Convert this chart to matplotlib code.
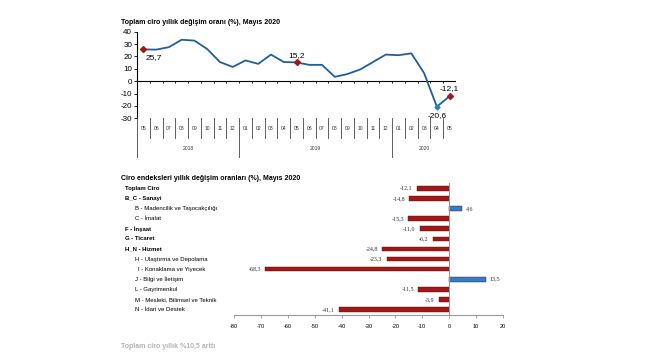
import matplotlib
matplotlib.use("Agg")
import matplotlib.pyplot as plt
import numpy as np

plt.rcParams['font.family'] = ['Liberation Sans', 'DejaVu Sans']
plt.rcParams['axes.unicode_minus'] = False

# --- top chart data ---
months = ["05", "06", "07", "08", "09", "10", "11", "12",
          "01", "02", "03", "04", "05", "06", "07", "08", "09", "10", "11", "12",
          "01", "02", "03", "04", "05"]
years = ["2018", "2019", "2020"]
year_spans = [(0, 8), (8, 20), (20, 25)]
ciro = [25.7, 25.5, 27.5, 33.5, 32.8, 26.0, 15.5, 11.5,
        16.8, 14.0, 21.5, 15.5, 15.2, 13.2, 13.2, 3.5, 5.8, 9.5, 15.5, 21.5,
        21.0, 22.5, 6.5, -20.6, -12.1]
marked = [0, 12, 24]

# --- bottom chart data ---
sectors = ["Toplam Ciro", "B_C - Sanayi", "B - Madencilik ve Taşocakçılığı", "C - İmalat",
           "F - İnşaat", "G - Ticaret", "H_N - Hizmet", "H - Ulaştırma ve Depolama",
           "I - Konaklama ve Yiyecek", "J - Bilgi ve İletişim", "L - Gayrimenkul",
           "M - Mesleki, Bilimsel ve Teknik", "N - İdari ve Destek"]
bold_rows = [True, True, False, False, True, True, True, False, False, False, False, False, False]
change = [-12.1, -14.8, 4.6, -15.3, -11.0, -6.2, -24.8, -23.3, -68.3, 13.5, -11.5, -3.9, -41.1]

W, H = 650, 360
fig = plt.figure(figsize=(W / 100, H / 100), dpi=100)


def px_axes(x0, y0, x1, y1):
    return fig.add_axes([x0 / W, 1 - y1 / H, (x1 - x0) / W, (y1 - y0) / H])


def fmt(v):
    return f"{v:.1f}".replace('.', ',')


line_col = '#1f5f9e'
red = '#a01818'
n = len(ciro)
x = np.arange(n)

# top line chart
ax = px_axes(137, 31.7, 456, 118.3)
ax.set_xlim(-0.5, n - 0.5)
ax.set_ylim(-30, 40)
ax.plot(x, ciro, color=line_col, lw=1.3, zorder=3)
ax.plot(x[marked], np.array(ciro)[marked], 'D', color=red, ms=3, zorder=4)
ax.plot([23], [ciro[23]], 'D', color='#2d7cc4', ms=2.5, zorder=4)
ax.axhline(0, color='black', lw=0.8)
ax.vlines(np.arange(n + 1) - 0.5, -1.6, 0, color='black', lw=0.6)
for s in ['top', 'right', 'bottom']:
    ax.spines[s].set_visible(False)
ax.spines['left'].set_linewidth(0.8)
ax.set_xticks([])
ax.set_yticks(range(-30, 41, 10))
ax.tick_params(axis='y', length=2, width=0.6, labelsize=5.8, pad=1.5)
ax.text(0.2, 25.7 - 4, fmt(ciro[0]), fontsize=6, ha='left', va='top')
ax.text(12, 15.2 + 3, fmt(ciro[12]), fontsize=6, ha='center', va='bottom')
ax.text(23, -20.6 - 4, fmt(ciro[23]), fontsize=6, ha='center', va='top')
ax.text(24, -12.1 + 3.5, fmt(ciro[24]), fontsize=6, ha='center', va='bottom')

# month / year table under the line chart
tx = px_axes(137, 118.3, 456, 158)
tx.set_xlim(-0.5, n - 0.5)
tx.set_ylim(0, 1)
tx.axis('off')
for i, m in enumerate(months):
    tx.text(i, 0.75, m, fontsize=3.6, ha='center', va='center', color='#333333')
year_edges = [s for s, e in year_spans] + [n]
for b in range(n + 1):
    if b in year_edges:
        tx.plot([b - 0.5, b - 0.5], [1, 0], color='#444444', lw=0.6)
    else:
        tx.plot([b - 0.5, b - 0.5], [1, 0.5], color='#444444', lw=0.6)
for yr, (s, e) in zip(years, year_spans):
    tx.text((s + e - 1) / 2, 0.25, yr, fontsize=3.6, ha='center', va='center', color='#333333')

fig.text(121 / W, 1 - 22 / H, "Toplam ciro yıllık değişim oranı (%), Mayıs 2020",
         fontsize=5, fontweight='bold', ha='left', va='center')

# bottom bar chart
bx = px_axes(234, 183.3, 503, 315.2)
rows = np.arange(len(sectors))
cols = [red if v < 0 else '#2e7fc8' for v in change]
bx.barh(rows, change, height=0.45, color=cols, edgecolor='#5a0c0c', linewidth=0.3)
bx.set_xlim(-80, 20)
bx.set_ylim(len(sectors) - 0.44, -0.5)
bx.axvline(0, color='#999999', lw=0.8)
for s in ['top', 'right', 'left']:
    bx.spines[s].set_visible(False)
bx.spines['bottom'].set_color('#999999')
bx.spines['bottom'].set_linewidth(0.8)
bx.set_yticks([])
bx.set_xticks(range(-80, 21, 10))
bx.tick_params(axis='x', length=2, width=0.6, color='#999999', labelsize=4, pad=4)
for r, v in zip(rows, change):
    if v < 0:
        bx.text(v - 1.5, r, fmt(v), fontsize=4.3, family='Liberation Serif',
                ha='right', va='center', color='#333333')
    else:
        bx.text(v + 1.5, r, fmt(v), fontsize=4.3, family='Liberation Serif',
                ha='left', va='center', color='#333333')

lab_tr = bx.get_yaxis_transform().__class__(fig.transFigure, bx.transData)
for r, (name, b) in enumerate(zip(sectors, bold_rows)):
    xp = 125 if b else 135
    if name.startswith("I -"):
        xp = 138
    bx.text(xp / W, r, name, transform=lab_tr,
            fontsize=4.3, fontweight='bold' if b else 'normal', ha='left', va='center')

fig.text(121 / W, 1 - 178 / H, "Ciro endeksleri yıllık değişim oranları (%), Mayıs 2020",
         fontsize=5, fontweight='bold', ha='left', va='center')

fig.text(121 / W, 1 - 346 / H, "Toplam ciro yıllık %10,5 arttı",
         fontsize=5, fontweight='bold', ha='left', va='center', alpha=0.3)

fig.savefig("out.png", dpi=100)
